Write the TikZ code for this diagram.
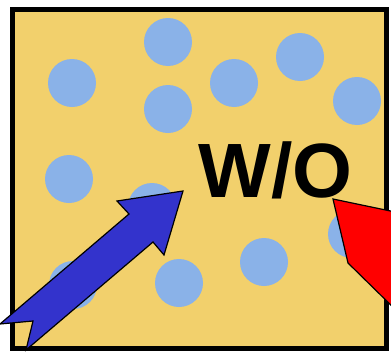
\documentclass[tikz,border=0pt]{standalone}
\usepackage{fontspec}
\setmainfont{Liberation Sans}

\definecolor{panel}{RGB}{242,208,108}
\definecolor{dot}{RGB}{138,178,232}
\definecolor{arrowblue}{RGB}{51,51,204}

\begin{document}
\begin{tikzpicture}[x=1pt, y=-1pt,
    dot/.style={fill=dot, draw=none},
    pointer/.style={draw=black, line width=1.2pt, line join=miter}]
    \useasboundingbox (0, 0) rectangle (391, 351);

    % panel
    \fill[panel] (12, 9.5) rectangle (386.5, 348.5);

    % blue dots
    \fill[dot] (168, 42) circle (24);
    \fill[dot] (72, 83) circle (24);
    \fill[dot] (234, 83) circle (24);
    \fill[dot] (300, 57) circle (24);
    \fill[dot] (357, 101) circle (24);
    \fill[dot] (168, 109) circle (24);
    \fill[dot] (69, 179) circle (24);
    \fill[dot] (152, 207) circle (24);
    \fill[dot] (264, 262) circle (24);
    \fill[dot] (179, 283) circle (24);
    \fill[dot] (73, 285) circle (24);
    \fill[dot] (352, 234) circle (24);

    % frame
    \draw[line width=5pt] (12, 9.5) rectangle (386.5, 348.5);

    \node[font=\fontsize{77}{77}\selectfont\bfseries, text=black] (label) at (275.5, 170) {W/O};

    % arrows
    \coordinate (bluetip) at (183, 191);
    \coordinate (redtip) at (333, 199);
    \filldraw[pointer, fill=arrowblue] (bluetip) -- (164, 255) -- (153, 242) -- (26, 350)
        -- (33, 321) -- (0, 324) -- (129, 214) -- (117, 201) -- cycle;
    \filldraw[pointer, fill=red] (redtip) -- (348, 263) -- (400, 314)
        -- (400, 213) -- cycle;
\end{tikzpicture}
\end{document}
